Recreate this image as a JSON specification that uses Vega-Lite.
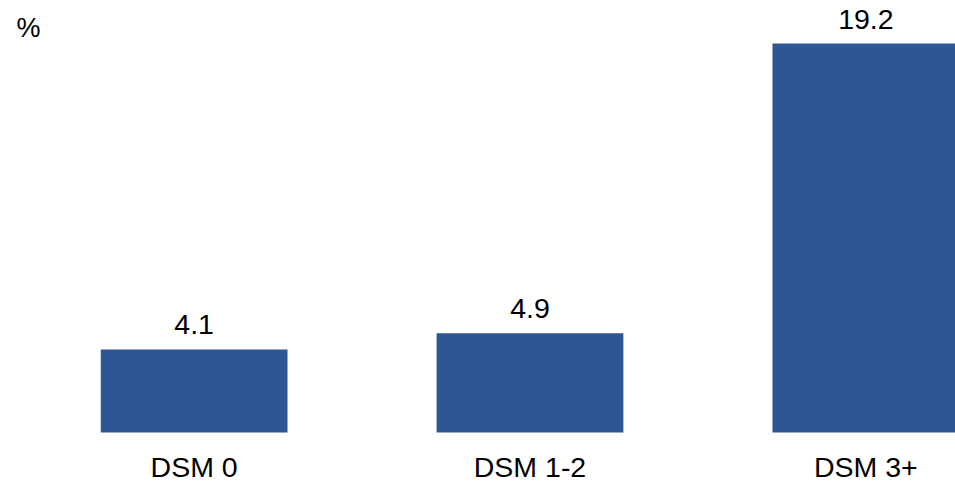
{
  "$schema": "https://vega.github.io/schema/vega-lite/v6.json",
  "autosize": {"type": "none"},
  "padding": {"top": 0, "left": 0, "right": 0, "bottom": 50},
  "width": 1060,
  "height": 432.5,
  "background": "white",
  "config": {"view": {"stroke": null}, "font": "Liberation Sans"},
  "data": {"values": [
    {"group": "DSM 0", "value": 4.1},
    {"group": "DSM 1-2", "value": 4.9},
    {"group": "DSM 3+", "value": 19.2}
  ]},
  "encoding": {
    "x": {"field": "group", "type": "nominal", "sort": null,
      "scale": {"paddingInner": 0.444, "paddingOuter": 0.3},
      "axis": {"title": null, "domain": false, "ticks": false, "tickSize": 0, "labelAngle": 0,
        "labelFontSize": 28.5, "labelColor": "#000000", "labelBaseline": "alphabetic", "labelPadding": 44, "labelFont": "Liberation Sans"}},
    "y": {"field": "value", "type": "quantitative",
      "scale": {"domain": [0, 21.35], "nice": false, "zero": true},
      "axis": {"title": "%", "titleAngle": 0, "titleX": 16, "titleY": 36, "titleAlign": "left", "titleBaseline": "alphabetic",
        "titleFontSize": 27, "titleFontWeight": "normal", "titleColor": "#000000", "titleFont": "Liberation Sans",
        "domain": false, "ticks": false, "labels": false, "grid": false}}
  },
  "layer": [
    {"mark": {"type": "bar", "color": "#2E5594"}},
    {"mark": {"type": "text", "fontSize": 28.5, "dy": -15, "baseline": "alphabetic", "color": "#000000", "font": "Liberation Sans"},
     "encoding": {"text": {"field": "value", "type": "quantitative", "format": ".1f"}}}
  ]
}
